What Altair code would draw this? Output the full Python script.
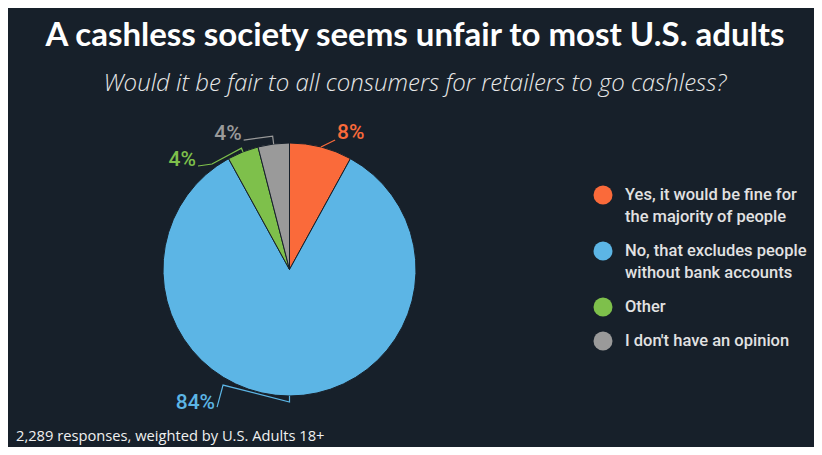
import math
import altair as alt
import pandas as pd

# ---------------- data ----------------
categories = [
    "Yes, it would be fine for the majority of people",
    "No, that excludes people without bank accounts",
    "Other",
    "I don't have an opinion",
]
legend_lines = [
    ["Yes, it would be fine for", "the majority of people"],
    ["No, that excludes people", "without bank accounts"],
    ["Other"],
    ["I don't have an opinion"],
]
values = [8, 84, 4, 4]
colors = ["#fa6a3a", "#5cb5e5", "#7ec04b", "#9a9a9a"]

title_text = "A cashless society seems unfair to most U.S. adults"
subtitle_text = "Would it be fair to all consumers for retailers to go cashless?"
footnote_text = "2,289 responses, weighted by U.S. Adults 18+"

# ---------------- layout ----------------
BG = "#17202a"
W, H = 806, 335
PAD_TOP = 104
CX, CY, R = 281.5, 157.5, 126.5
# per slice label placement: stub length, knee (angle deg, radius), end offset, text offset, align
label_layout = [
    dict(stub=0, knee=(19.4, 137.3), end=(0, 0), txt=(2, -1), align="left"),
    dict(stub=6, knee=(209.9, 133.3), end=(-6, 22), txt=(-2, 2), align="right"),
    dict(stub=4, knee=(323.7, 130.9), end=(-14, 2), txt=(-2, 0), align="right"),
    dict(stub=8, knee=(352.8, 134.5), end=(-29, 4), txt=(-2, 0), align="right"),
]


def polar(angle_deg, r):
    a = math.radians(angle_deg)
    return CX + r * math.sin(a), CY - r * math.cos(a)


total = sum(values)
pie_df = pd.DataFrame({"category": categories, "value": values, "order": list(range(len(values)))})

line_rows, label_rows = [], []
cum = 0
for cat, v, lay in zip(categories, values, label_layout):
    mid = (cum + v / 2) / total * 360
    cum += v
    p0 = polar(mid, R)
    p1 = polar(mid, R + lay["stub"])
    p2 = polar(*lay["knee"])
    p3 = (p2[0] + lay["end"][0], p2[1] + lay["end"][1])
    for i, p in enumerate([p0, p1, p2, p3]):
        line_rows.append({"category": cat, "idx": i, "x": p[0], "y": p[1]})
    label_rows.append({
        "category": cat,
        "text": f"{v}%",
        "x": p3[0] + lay["txt"][0],
        "y": p3[1] + lay["txt"][1],
        "align": lay["align"],
    })
line_df = pd.DataFrame(line_rows)
label_df = pd.DataFrame(label_rows)

# manual legend rows
LEG_SYM_X, LEG_TXT_X, LEG_Y0, LINE_H, ROW_GAP = 595, 617, 83, 22, 12
leg_sym, leg_txt = [], []
y = LEG_Y0
for cat, lines in zip(categories, legend_lines):
    leg_sym.append({"category": cat, "x": LEG_SYM_X, "y": y})
    for j, ln in enumerate(lines):
        leg_txt.append({"text": ln, "x": LEG_TXT_X, "y": y + j * LINE_H})
    y += len(lines) * LINE_H + ROW_GAP
leg_sym_df = pd.DataFrame(leg_sym)
leg_txt_df = pd.DataFrame(leg_txt)
foot_df = pd.DataFrame({"text": [footnote_text], "x": [8], "y": [325]})

xs = alt.Scale(domain=[0, W], nice=False, zero=False)
ys = alt.Scale(domain=[0, H], nice=False, zero=False, reverse=True)
color_scale = alt.Scale(domain=categories, range=colors)

X = lambda: alt.X("x:Q", scale=xs, axis=None)
Y = lambda: alt.Y("y:Q", scale=ys, axis=None)

arcs = alt.Chart(pie_df).mark_arc(outerRadius=R, stroke=BG, strokeWidth=1).encode(
    theta=alt.Theta("value:Q", stack=True),
    color=alt.Color("category:N", scale=color_scale, legend=None),
    order=alt.Order("order:Q"),
    x=alt.value(CX),
    y=alt.value(CY),
)

connectors = alt.Chart(line_df).mark_line(strokeWidth=1.2, interpolate="linear").encode(
    x=X(), y=Y(),
    color=alt.Color("category:N", scale=color_scale, legend=None),
    order=alt.Order("idx:Q"),
)

def label_layer(align):
    return alt.Chart(label_df[label_df["align"] == align]).mark_text(
        font="Roboto", fontSize=21, fontWeight=500, align=align, baseline="alphabetic"
    ).encode(
        x=X(), y=Y(), text="text:N",
        color=alt.Color("category:N", scale=color_scale, legend=None),
    )

legend_pts = alt.Chart(leg_sym_df).mark_point(filled=True, shape="circle", size=361, opacity=1).encode(
    x=X(), y=Y(),
    color=alt.Color("category:N", scale=color_scale, legend=None),
)
legend_txt = alt.Chart(leg_txt_df).mark_text(
    font="Roboto", fontSize=16.5, fontWeight=500, align="left", baseline="middle", color="#e2e2e2"
).encode(x=X(), y=Y(), text="text:N")

footnote = alt.Chart(foot_df).mark_text(
    font="Open Sans", fontSize=14.7, align="left", baseline="middle", color="#f0f0f0"
).encode(x=X(), y=Y(), text="text:N")

chart = alt.layer(
    arcs, connectors, label_layer("left"), label_layer("right"), legend_pts, legend_txt, footnote
).properties(
    width=W,
    height=H,
    autosize=alt.AutoSizeParams(type="none"),
    padding={"left": 0, "right": 0, "top": PAD_TOP, "bottom": 0},
    background=BG,
    title=alt.TitleParams(
        text=title_text,
        subtitle=subtitle_text,
        anchor="middle",
        frame="group",
        font="Lato",
        fontSize=33,
        fontWeight="bold",
        color="#ffffff",
        subtitleFont="Open Sans",
        subtitleFontSize=24,
        subtitleFontStyle="italic",
        subtitleFontWeight=300,
        subtitleColor="#e8e8e8",
        subtitlePadding=19,
        offset=16,
        dx=4,
    ),
).configure_view(stroke=None)

chart.save("out.html", embed_options={"renderer": "svg", "actions": False})
